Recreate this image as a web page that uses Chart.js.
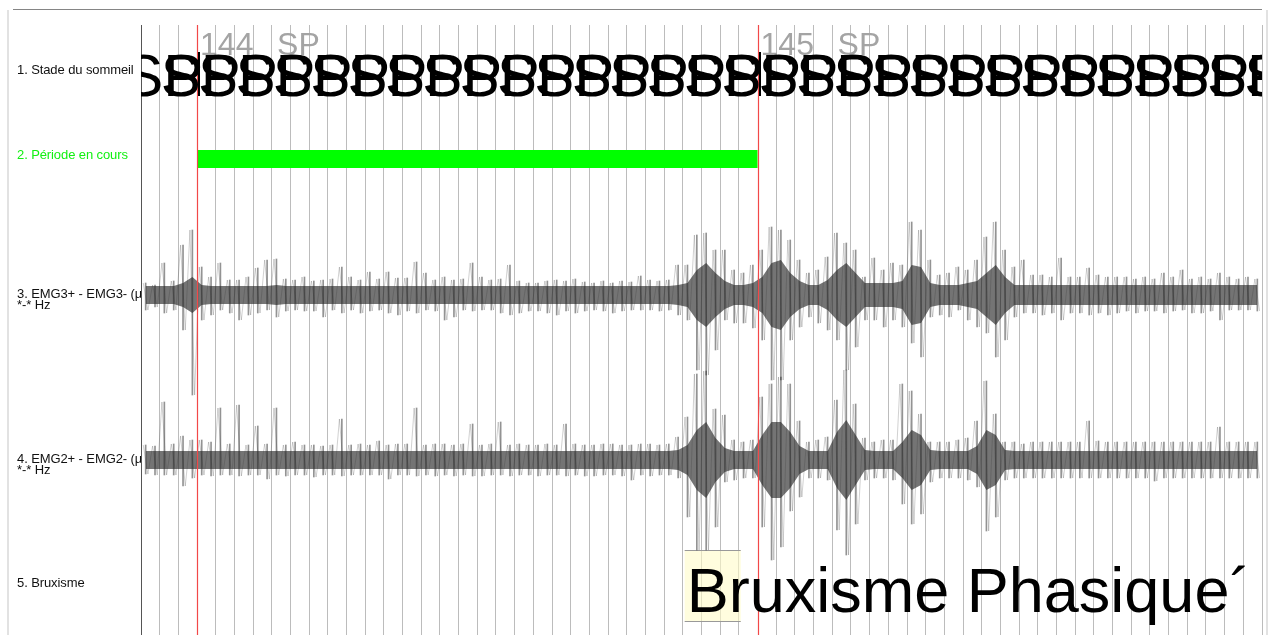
<!DOCTYPE html>
<html lang="fr">
<head>
  <meta charset="UTF-8">
  <title>Bruxisme phasique - époques 144 / 145</title>
  <script src="https://cdn.jsdelivr.net/npm/chart.js"></script>
  <style>
    * { box-sizing: border-box; margin: 0; padding: 0; }

    body {
      width: 1269px;
      height: 635px;
      overflow: hidden;
      background: #fff;
      font-family: 'Liberation Sans', Arial, sans-serif;
      position: relative;
    }

    canvas { position: absolute; left: 0; top: 0; }

    .frame { position: absolute; }
    .frame.top { left: 13px; top: 9px; width: 1249px; height: 1px; background: #858585; }
    .frame.left { left: 7px; top: 10px; width: 2px; height: 625px; background: #e2e2e2; }
    .frame.right { left: 1266px; top: 10px; width: 2px; height: 625px; background: #e2e2e2; }

    .lbl {
      position: absolute;
      left: 17px;
      width: 124px;
      overflow: hidden;
      white-space: nowrap;
      font-size: 13px;
      letter-spacing: -0.1px;
      line-height: 11px;
      color: #111;
    }
    .lbl.green { color: #12f012; }
  </style>
</head>
<body>

<canvas id="psg" width="1269" height="635"></canvas>

<div class="frame top"></div>
<div class="frame left"></div>
<div class="frame right"></div>

<div class="lbl" style="top:64px">1. Stade du sommeil</div>
<div class="lbl green" style="top:149px">2. Période en cours</div>
<div class="lbl" style="top:288px">3. EMG3+ - EMG3- (µV)<br>*-* Hz</div>
<div class="lbl" style="top:453px">4. EMG2+ - EMG2- (µV)<br>*-* Hz</div>
<div class="lbl" style="top:577px">5. Bruxisme</div>

<script>
  // --- data (seconds on x, µV on the traces) ---
  const epochNumbers = [144, 145];
  const epochStarts = [3, 33];
  const epochStages = ['SP', 'SP'];
  const periodRange = [3, 33];

  const eventStarts = [29.1];
  const eventEnds = [32.1];
  const eventLabels = ['Bruxisme Phasique´'];

  const binSec = 0.5;

  // max / min excursion per 0.5 s bin, and the dense core of the trace
  const emg3Hi = [
    12, 10, 32, 14, 50, 65, 28, 18, 32, 15,
    15, 18, 27, 35, 36, 16, 15, 18, 14, 15,
    16, 28, 18, 15, 23, 16, 23, 17, 17, 33,
    22, 15, 18, 15, 16, 32, 18, 15, 16, 30,
    14, 12, 12, 14, 15, 14, 16, 13, 12, 14,
    12, 14, 13, 19, 15, 14, 15, 30, 30, 60,
    62, 45, 45, 25, 22, 30, 45, 68, 65, 55,
    35, 22, 25, 38, 62, 52, 45, 18, 37, 25,
    32, 30, 73, 65, 35, 20, 22, 28, 25, 35,
    58, 73, 45, 28, 35, 20, 20, 18, 37, 18,
    18, 27, 20, 18, 18, 18, 16, 18, 16, 22,
    18, 25, 16, 18, 16, 22, 18, 16, 18, 16
  ];
  const emg3Lo = [
    15, 12, 18, 15, 35, 100, 25, 20, 15, 18,
    25, 20, 18, 15, 22, 16, 15, 16, 16, 22,
    15, 18, 15, 18, 16, 15, 18, 20, 16, 18,
    15, 16, 25, 22, 15, 16, 15, 15, 18, 20,
    18, 16, 16, 18, 20, 16, 18, 16, 15, 16,
    18, 16, 15, 15, 15, 16, 15, 20, 25, 75,
    80, 55, 25, 28, 28, 33, 45, 85, 85, 45,
    32, 22, 28, 35, 45, 75, 52, 25, 25, 32,
    25, 32, 48, 62, 22, 20, 22, 15, 25, 32,
    38, 62, 45, 22, 18, 18, 20, 18, 25, 18,
    18, 20, 18, 20, 18, 16, 18, 16, 16, 18,
    16, 15, 18, 18, 16, 25, 15, 15, 15, 16
  ];
  const emg3Core = [
    9, 9, 9, 9, 12, 18, 10, 9, 9, 9,
    9, 9, 9, 9, 10, 9, 9, 9, 9, 9,
    9, 9, 9, 9, 9, 9, 9, 9, 9, 9,
    9, 9, 9, 9, 9, 9, 9, 9, 9, 9,
    9, 9, 9, 9, 9, 9, 9, 9, 9, 9,
    9, 9, 9, 9, 9, 9, 9, 10, 12, 25,
    32, 22, 14, 10, 10, 12, 18, 32, 35, 22,
    14, 10, 10, 15, 25, 32, 22, 12, 12, 12,
    12, 14, 30, 28, 12, 10, 10, 10, 12, 14,
    22, 30, 18, 10, 10, 10, 10, 10, 10, 10,
    10, 10, 10, 10, 10, 10, 10, 10, 10, 10,
    10, 10, 10, 10, 10, 10, 10, 10, 10, 10
  ];

  const emg2Hi = [
    15, 14, 58, 16, 24, 20, 20, 18, 52, 16,
    55, 15, 34, 16, 52, 15, 18, 15, 15, 14,
    15, 41, 15, 16, 15, 19, 15, 16, 16, 52,
    15, 16, 16, 15, 16, 36, 15, 16, 38, 15,
    16, 15, 15, 16, 15, 36, 16, 15, 15, 16,
    16, 15, 15, 16, 16, 15, 16, 23, 43, 86,
    89, 51, 45, 20, 18, 20, 63, 76, 83, 76,
    39, 18, 20, 23, 60, 90, 56, 22, 18, 20,
    20, 76, 69, 46, 18, 18, 18, 20, 22, 39,
    79, 46, 18, 18, 16, 18, 18, 18, 18, 18,
    18, 39, 19, 18, 18, 18, 18, 18, 18, 18,
    18, 18, 18, 18, 18, 33, 18, 18, 18, 18
  ];
  const emg2Lo = [
    14, 15, 15, 15, 26, 18, 15, 16, 15, 15,
    16, 15, 15, 19, 15, 16, 15, 15, 17, 15,
    15, 16, 15, 15, 15, 15, 19, 15, 15, 16,
    15, 16, 15, 16, 15, 16, 16, 15, 15, 16,
    15, 15, 16, 15, 15, 16, 15, 16, 16, 15,
    15, 16, 20, 15, 16, 15, 15, 18, 57, 90,
    90, 67, 22, 20, 18, 18, 67, 100, 87, 51,
    37, 18, 18, 20, 70, 95, 64, 20, 18, 18,
    20, 44, 64, 54, 22, 18, 18, 18, 20, 27,
    71, 57, 20, 18, 18, 18, 18, 18, 18, 18,
    18, 18, 18, 18, 18, 18, 18, 18, 21, 18,
    18, 18, 18, 18, 18, 18, 18, 18, 18, 18
  ];
  const emg2Core = [
    9, 9, 9, 9, 9, 9, 9, 9, 9, 9,
    9, 9, 9, 9, 9, 9, 9, 9, 9, 9,
    9, 9, 9, 9, 9, 9, 9, 9, 9, 9,
    9, 9, 9, 9, 9, 9, 9, 9, 9, 9,
    9, 9, 9, 9, 9, 9, 9, 9, 9, 9,
    9, 9, 9, 9, 9, 9, 9, 10, 15, 30,
    38, 22, 12, 9, 9, 9, 25, 38, 38, 28,
    14, 9, 9, 9, 28, 40, 25, 10, 9, 9,
    9, 18, 30, 25, 10, 9, 9, 9, 9, 14,
    30, 25, 10, 9, 9, 9, 9, 9, 9, 9,
    9, 9, 9, 9, 9, 9, 9, 9, 9, 9,
    9, 9, 9, 9, 9, 9, 9, 9, 9, 9
  ];

  // --- layout: y axis runs 0..610, one unit per pixel, rows sit at fixed levels ---
  const Y_MAX = 610;
  const ROW_STAGE_TEXT = 539;
  const ROW_EPOCH_TEXT = 580;
  const ROW_PERIOD = 476;
  const ROW_EMG3 = 340;
  const ROW_EMG2 = 175;
  const EVENT_TOP = 85;
  const EVENT_BOTTOM = 13;
  const EVENT_TEXT = 23;

  function zigzag(hi, lo, base) {
    const pts = [];
    hi.forEach((h, i) => {
      pts.push({ x: i * binSec + 0.12, y: base + h });
      pts.push({ x: i * binSec + 0.37, y: base - lo[i] });
    });
    return pts;
  }
  function spikes(hi, lo, base) {
    return hi.map((h, i) => ({ x: i * binSec + 0.25, y: [base - lo[i], base + h] }));
  }
  function band(core, base, sign) {
    return core.map((c, i) => ({ x: i * binSec + 0.25, y: base + sign * c }));
  }

  function traceSets(hi, lo, core, base) {
    return [
      { data: band(core, base, 1), borderWidth: 0, pointRadius: 0, fill: false, order: 4 },
      { data: band(core, base, -1), borderWidth: 0, pointRadius: 0, fill: '-1',
        backgroundColor: 'rgba(30,30,30,0.62)', order: 4 },
      { type: 'bar', data: spikes(hi, lo, base), backgroundColor: 'rgba(40,40,40,0.5)',
        barThickness: 1, grouped: false, order: 3 },
      { data: zigzag(hi, lo, base), borderColor: 'rgba(50,50,50,0.32)', borderWidth: 0.7,
        pointRadius: 0, fill: false, order: 2 }
    ];
  }

  const overlay = {
    id: 'overlay',
    beforeDatasetsDraw(chart) {
      const { ctx, scales: { x, y } } = chart;
      ctx.save();
      // scored event box
      eventStarts.forEach((s, i) => {
        const x0 = x.getPixelForValue(s), x1 = x.getPixelForValue(eventEnds[i]);
        const yt = y.getPixelForValue(EVENT_TOP), yb = y.getPixelForValue(EVENT_BOTTOM);
        ctx.fillStyle = 'rgba(255,252,200,0.6)';
        ctx.fillRect(x0, yt, x1 - x0, yb - yt);
        ctx.strokeStyle = '#999';
        ctx.lineWidth = 1;
        ctx.beginPath();
        ctx.moveTo(x0, yt + 0.5); ctx.lineTo(x1, yt + 0.5);
        ctx.moveTo(x0, yb - 0.5); ctx.lineTo(x1, yb - 0.5);
        ctx.stroke();
      });
      ctx.restore();
    },
    afterDatasetsDraw(chart) {
      const { ctx, chartArea: a, scales: { x, y } } = chart;
      ctx.save();
      ctx.beginPath();
      ctx.rect(a.left, a.top, a.right - a.left, a.bottom - a.top);
      ctx.clip();

      // epoch boundaries
      ctx.strokeStyle = '#f24848';
      ctx.lineWidth = 1.2;
      epochStarts.forEach((s) => {
        const px = Math.round(x.getPixelForValue(s)) + 0.5;
        ctx.beginPath();
        ctx.moveTo(px, a.top);
        ctx.lineTo(px, a.bottom);
        ctx.stroke();
      });

      // epoch number + stage, grey
      ctx.fillStyle = '#a4a4a4';
      ctx.font = '32px "Liberation Sans", Arial, sans-serif';
      ctx.textBaseline = 'alphabetic';
      epochStarts.forEach((s, i) => {
        const px = x.getPixelForValue(s) + 3;
        const py = y.getPixelForValue(ROW_EPOCH_TEXT);
        ctx.fillText(String(epochNumbers[i]), px, py);
        ctx.fillText(epochStages[i], px + 77, py);
      });

      // stage hypnogram text, repeated every 2 s
      ctx.fillStyle = '#000';
      ctx.font = '60px "Liberation Sans", Arial, sans-serif';
      const py = y.getPixelForValue(ROW_STAGE_TEXT);
      for (let t = epochStarts[0] - 4; t < x.max; t += 2) {
        const idx = t < epochStarts[1] ? 0 : 1;
        ctx.fillText(epochStages[idx], x.getPixelForValue(t) + 1, py);
      }
      epochStarts.forEach((s) => {
        ctx.fillRect(Math.round(x.getPixelForValue(s)) + 1, py - 44, 2, 44);
      });

      // scored events
      ctx.font = '63px "Liberation Sans", Arial, sans-serif';
      eventStarts.forEach((s, i) => {
        ctx.fillText(eventLabels[i], x.getPixelForValue(s) + 2, y.getPixelForValue(EVENT_TEXT));
      });
      ctx.restore();
    }
  };

  new Chart(document.getElementById('psg'), {
    type: 'line',
    data: {
      datasets: [
        { data: [{ x: periodRange[0], y: ROW_PERIOD }, { x: periodRange[1], y: ROW_PERIOD }],
          borderColor: '#00ff00', borderWidth: 18, borderCapStyle: 'butt', pointRadius: 0, order: 1 },
        ...traceSets(emg3Hi, emg3Lo, emg3Core, ROW_EMG3),
        ...traceSets(emg2Hi, emg2Lo, emg2Core, ROW_EMG2)
      ]
    },
    options: {
      responsive: false,
      animation: false,
      devicePixelRatio: 1,
      layout: { padding: { left: 141, top: 25, right: 7, bottom: 0 } },
      plugins: { legend: { display: false }, tooltip: { enabled: false } },
      elements: { line: { tension: 0 } },
      scales: {
        x: {
          type: 'linear',
          min: 0,
          max: 60,
          offset: false,
          ticks: { display: false, stepSize: 1 },
          grid: {
            offset: false,
            drawTicks: false,
            lineWidth: 1,
            color: (c) => {
              const v = c.tick ? c.tick.value : null;
              if (v === 0) return '#555';
              if (epochStarts.includes(v)) return 'rgba(0,0,0,0)';
              return '#bcbcbc';
            }
          },
          border: { display: false }
        },
        y: { display: false, min: 0, max: Y_MAX }
      }
    },
    plugins: [overlay]
  });
</script>

</body>
</html>
